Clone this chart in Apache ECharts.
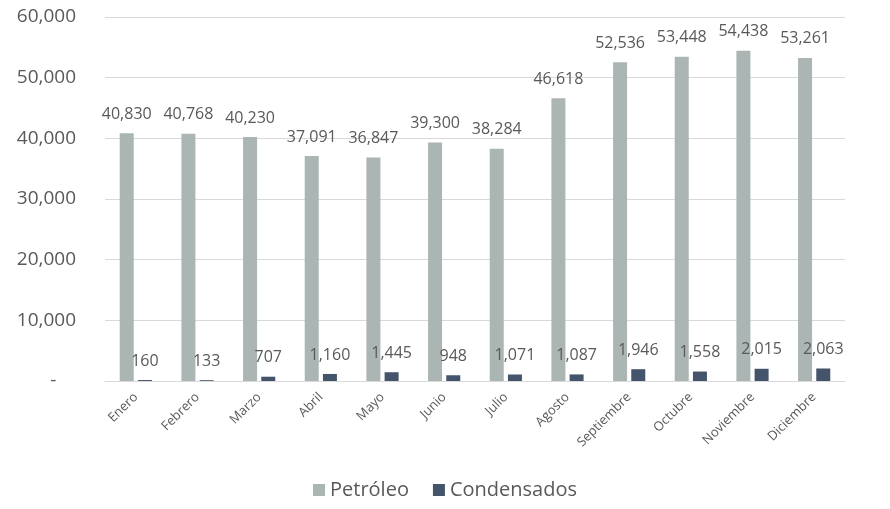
<!DOCTYPE html>
<html>
<head>
<meta charset="utf-8">
<script src="https://cdn.jsdelivr.net/npm/echarts@6/dist/echarts.min.js"></script>
<style>
  html, body { margin: 0; padding: 0; background: #fff; }
  #chart { width: 890px; height: 509px; }
</style>
</head>
<body>
<div id="chart"></div>
<script>
const months = ['Enero', 'Febrero', 'Marzo', 'Abril', 'Mayo', 'Junio', 'Julio', 'Agosto', 'Septiembre', 'Octubre', 'Noviembre', 'Diciembre'];
const petroleo = [40830, 40768, 40230, 37091, 36847, 39300, 38284, 46618, 52536, 53448, 54438, 53261];
const condensados = [160, 133, 707, 1160, 1445, 948, 1071, 1087, 1946, 1558, 2015, 2063];

const fontFamily = "'Open Sans', 'Noto Sans', sans-serif";
const textColor = '#595959';
const fmt = (v) => v.toLocaleString('en-US');

const chart = echarts.init(document.getElementById('chart'));

const labelStyle = {
  show: true,
  position: 'top',
  distance: 11,
  color: textColor,
  fontSize: 16,
  fontFamily: fontFamily,
  formatter: (p) => fmt(p.value),
};

chart.setOption({
  animation: false,
  textStyle: { fontFamily: fontFamily },
  grid: { left: 105, right: 45, top: 17, bottom: 128, containLabel: false },
  legend: {
    bottom: 4,
    left: 'center',
    itemWidth: 12,
    itemHeight: 12,
    itemGap: 24,
    icon: 'rect',
    textStyle: { color: textColor, fontSize: 20, fontFamily: fontFamily },
    data: ['Petróleo', 'Condensados'],
  },
  xAxis: {
    type: 'category',
    data: months,
    axisLine: { show: true, lineStyle: { color: '#d9d9d9', width: 1 } },
    axisTick: { show: false },
    axisLabel: { color: textColor, fontSize: 13, rotate: 45, margin: 14, interval: 0 },
  },
  yAxis: {
    type: 'value',
    min: 0,
    max: 60000,
    interval: 10000,
    axisLine: { show: false },
    axisTick: { show: false },
    splitLine: { lineStyle: { color: '#d9d9d9', width: 1 } },
    axisLabel: {
      color: textColor,
      fontSize: 19,
      margin: 29,
      formatter: (v) => (v === 0 ? '-    ' : fmt(v)),
    },
  },
  series: [
    {
      name: 'Petróleo',
      type: 'bar',
      data: petroleo,
      barWidth: 14,
      barGap: '30%',
      itemStyle: { color: '#abb6b4' },
      label: labelStyle,
    },
    {
      name: 'Condensados',
      type: 'bar',
      data: condensados,
      barWidth: 14,
      itemStyle: { color: '#44546a' },
      label: labelStyle,
    },
  ],
});
</script>
</body>
</html>
